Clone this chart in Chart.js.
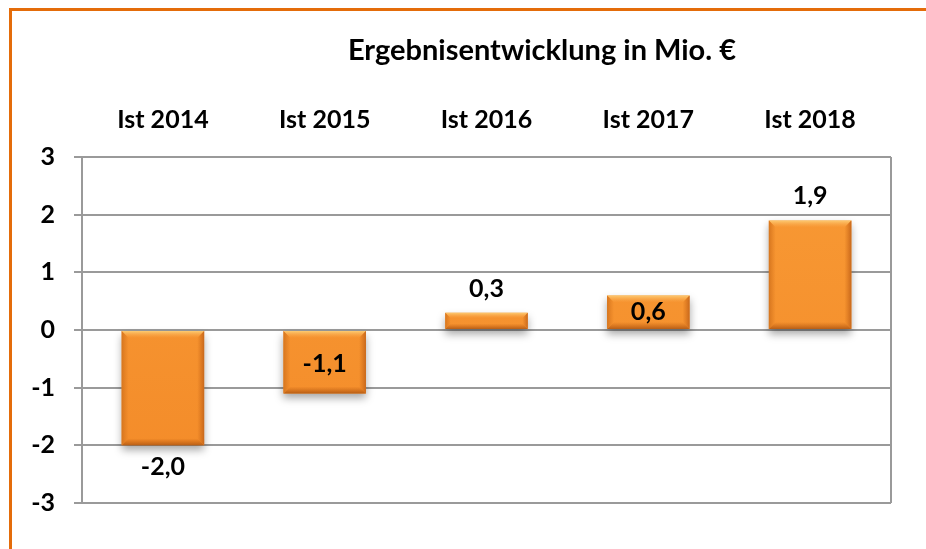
<!DOCTYPE html>
<html>
<head>
<meta charset="utf-8">
<script src="https://cdn.jsdelivr.net/npm/chart.js@4"></script>
<style>
  html, body { margin: 0; padding: 0; background: #fff; }
  #wrap { width: 926px; height: 549px; position: relative; }
</style>
</head>
<body>
<div id="wrap"><canvas id="chart"></canvas></div>
<script>
// Daten
const kategorien = ['Ist 2014', 'Ist 2015', 'Ist 2016', 'Ist 2017', 'Ist 2018'];
const ergebnis = [-2.0, -1.1, 0.3, 0.6, 1.9];
const labelLage = ['out', 'in', 'out', 'in', 'out']; // Position der Datenbeschriftung
const titel = 'Ergebnisentwicklung in Mio. €';

const schrift = 'Lato, "Open Sans", sans-serif';

// Rahmen, Titel, Schatten und Beschriftungen
const deko = {
  id: 'deko',
  beforeDraw(chart) {
    const ctx = chart.ctx;
    ctx.save();
    ctx.fillStyle = '#fff';
    ctx.fillRect(0, 0, chart.width, chart.height);
    ctx.fillStyle = '#E46C0A';
    ctx.fillRect(9, 8, chart.width - 9, 3);
    ctx.fillRect(9, 8, 3, chart.height - 8);
    // Titel
    ctx.fillStyle = '#000';
    ctx.font = 'bold 29px ' + schrift;
    ctx.textAlign = 'center';
    ctx.textBaseline = 'middle';
    ctx.fillText(titel, 542, 51);
    ctx.restore();
  },
  beforeDatasetsDraw(chart) {
    const ctx = chart.ctx;
    ctx.save();
    ctx.shadowColor = 'rgba(0,0,0,0.35)';
    ctx.shadowBlur = 8;
    ctx.shadowOffsetY = 5;
  },
  afterDatasetsDraw(chart) {
    const ctx = chart.ctx;
    ctx.restore();
    const meta = chart.getDatasetMeta(0);
    meta.data.forEach((bar, i) => {
      const l = bar.x - bar.width / 2, r = bar.x + bar.width / 2;
      const t = Math.min(bar.y, bar.base), b = Math.max(bar.y, bar.base);
      const e = Math.min(7, (b - t) / 3);
      ctx.save();
      // Facette oben
      let g = ctx.createLinearGradient(0, t, 0, t + e);
      g.addColorStop(0, '#FDCB72');
      g.addColorStop(1, 'rgba(250,170,80,0)');
      ctx.fillStyle = g;
      ctx.beginPath();
      ctx.moveTo(l, t); ctx.lineTo(r, t); ctx.lineTo(r - e, t + e); ctx.lineTo(l + e, t + e); ctx.closePath();
      ctx.fill();
      // Facette unten
      g = ctx.createLinearGradient(0, b - e, 0, b);
      g.addColorStop(0, 'rgba(200,100,20,0)');
      g.addColorStop(1, '#B85E16');
      ctx.fillStyle = g;
      ctx.beginPath();
      ctx.moveTo(l, b); ctx.lineTo(r, b); ctx.lineTo(r - e, b - e); ctx.lineTo(l + e, b - e); ctx.closePath();
      ctx.fill();
      // Facette rechts
      g = ctx.createLinearGradient(r - e, 0, r, 0);
      g.addColorStop(0, 'rgba(210,110,25,0)');
      g.addColorStop(1, '#C8681C');
      ctx.fillStyle = g;
      ctx.beginPath();
      ctx.moveTo(r, t); ctx.lineTo(r, b); ctx.lineTo(r - e, b - e); ctx.lineTo(r - e, t + e); ctx.closePath();
      ctx.fill();
      // Facette links
      g = ctx.createLinearGradient(l, 0, l + e, 0);
      g.addColorStop(0, '#D6761F');
      g.addColorStop(1, 'rgba(220,120,30,0)');
      ctx.fillStyle = g;
      ctx.beginPath();
      ctx.moveTo(l, t); ctx.lineTo(l, b); ctx.lineTo(l + e, b - e); ctx.lineTo(l + e, t + e); ctx.closePath();
      ctx.fill();
      ctx.restore();

      // Datenbeschriftung
      const v = ergebnis[i];
      const txt = v.toFixed(1).replace('.', ',');
      const neg = v < 0;
      let y;
      if (labelLage[i] === 'out') y = neg ? bar.y + 22 : bar.y - 24;
      else y = neg ? bar.y - 29 : bar.y + 17;
      ctx.save();
      ctx.fillStyle = '#000';
      ctx.font = 'bold 25px ' + schrift;
      ctx.textAlign = 'center';
      ctx.textBaseline = 'middle';
      ctx.fillText(txt, bar.x, y);
      ctx.restore();
    });
  },
  afterDraw(chart) {
    const a = chart.chartArea, ctx = chart.ctx;
    ctx.save();
    ctx.strokeStyle = '#9A9A9A';
    ctx.lineWidth = 2;
    ctx.beginPath();
    ctx.moveTo(a.right, a.top); ctx.lineTo(a.right, a.bottom);
    ctx.stroke();
    ctx.restore();
  }
};

new Chart(document.getElementById('chart'), {
  type: 'bar',
  data: {
    labels: kategorien,
    datasets: [{
      data: ergebnis,
      backgroundColor(c) {
        const a = c.chart.chartArea;
        if (!a) return '#F7922E';
        const g = c.chart.ctx.createLinearGradient(0, a.top, 0, a.bottom);
        g.addColorStop(0, '#F89A35');
        g.addColorStop(1, '#F38A28');
        return g;
      },
      borderWidth: 0,
      barPercentage: 0.51,
      categoryPercentage: 1.0
    }]
  },
  options: {
    responsive: true,
    maintainAspectRatio: false,
    animation: false,
    layout: { padding: { top: 100, left: 12, right: 35, bottom: 46 } },
    plugins: {
      legend: { display: false },
      tooltip: { enabled: false },
      title: { display: false }
    },
    scales: {
      x: {
        position: 'top',
        grid: { display: false, drawTicks: false },
        border: { display: false },
        ticks: {
          color: '#000',
          padding: 22,
          font: { family: schrift, size: 25, weight: 'bold' }
        },
        afterFit(s) { s.height = 57; }
      },
      y: {
        min: -3,
        max: 3,
        grid: { color: '#9A9A9A', lineWidth: 2, tickLength: 8 },
        border: { color: '#9A9A9A', width: 2 },
        ticks: {
          stepSize: 1,
          color: '#000',
          padding: 19,
          font: { family: schrift, size: 25, weight: 'bold' }
        },
        afterFit(s) { s.width = 70; }
      }
    }
  },
  plugins: [deko]
});
</script>
</body>
</html>
